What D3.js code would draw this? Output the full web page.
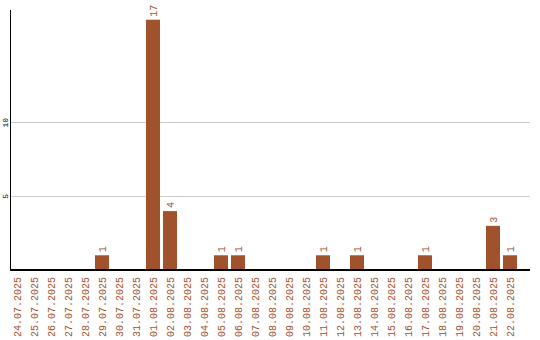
<!DOCTYPE html>
<html>
<head>
<meta charset="utf-8">
<script src="https://cdn.jsdelivr.net/npm/d3@7/dist/d3.min.js"></script>
<style>
  html, body { margin: 0; padding: 0; background: #fff; }
  svg { display: block; }
</style>
</head>
<body>
<svg id="chart" width="540" height="340"></svg>
<script>
const categories = ["24.07.2025","25.07.2025","26.07.2025","27.07.2025","28.07.2025","29.07.2025","30.07.2025","31.07.2025",
  "01.08.2025","02.08.2025","03.08.2025","04.08.2025","05.08.2025","06.08.2025","07.08.2025","08.08.2025","09.08.2025",
  "10.08.2025","11.08.2025","12.08.2025","13.08.2025","14.08.2025","15.08.2025","16.08.2025","17.08.2025","18.08.2025",
  "19.08.2025","20.08.2025","21.08.2025","22.08.2025"];
const values = [0,0,0,0,0,1,0,0,17,4,0,0,1,1,0,0,0,0,1,0,1,0,0,0,1,0,0,0,3,1];
const yTicks = [5, 10];

const color = "#a0522d";
const font = "'Liberation Mono', 'Courier New', monospace";
const svg = d3.select("#chart");
const x = d3.scaleBand().domain(categories).range([10, 517]).paddingInner(3/17).paddingOuter(0);
const y = d3.scaleLinear().domain([0, 17.66]).range([270, 10]);

// gridlines
svg.append("g").selectAll("line").data(yTicks).join("line")
  .attr("x1", 10).attr("x2", 530)
  .attr("y1", d => Math.floor(y(d)) + 0.5).attr("y2", d => Math.floor(y(d)) + 0.5)
  .attr("stroke", "#cccccc").attr("stroke-width", 1);

// y tick labels
svg.append("g").selectAll("text").data(yTicks).join("text")
  .attr("transform", d => `translate(8,${y(d)}) rotate(-90)`)
  .attr("text-anchor", "middle")
  .attr("font-family", font)
  .attr("font-size", 8)
  .attr("fill", "#000")
  .text(d => d);

// bars
const data = categories.map((c, i) => ({c, v: values[i]}));
svg.append("g").selectAll("rect").data(data.filter(d => d.v > 0)).join("rect")
  .attr("x", d => x(d.c)).attr("width", x.bandwidth())
  .attr("y", d => y(d.v)).attr("height", d => y(0) - y(d.v))
  .attr("fill", color);

// value labels
svg.append("g").selectAll("text").data(data.filter(d => d.v > 0)).join("text")
  .attr("transform", d => `translate(${x(d.c) + x.bandwidth()/2 + 3.5},${y(d.v) - 3}) rotate(-90)`)
  .attr("text-anchor", "start")
  .attr("font-family", font)
  .attr("font-size", 10)
  .attr("fill", color)
  .text(d => d.v);

// x labels
svg.append("g").selectAll("text").data(categories).join("text")
  .attr("transform", d => `translate(${x(d) + x.bandwidth()/2 + 3.5},277) rotate(-90)`)
  .attr("text-anchor", "end")
  .attr("font-family", font)
  .attr("font-size", 10)
  .attr("fill", color)
  .text(d => d);

// axes lines
svg.append("line").attr("x1", 10.5).attr("x2", 10.5).attr("y1", 10).attr("y2", 271)
  .attr("stroke", "#000").attr("stroke-width", 1);
svg.append("line").attr("x1", 10).attr("x2", 530).attr("y1", 270).attr("y2", 270)
  .attr("stroke", "#000").attr("stroke-width", 2);
</script>
</body>
</html>
